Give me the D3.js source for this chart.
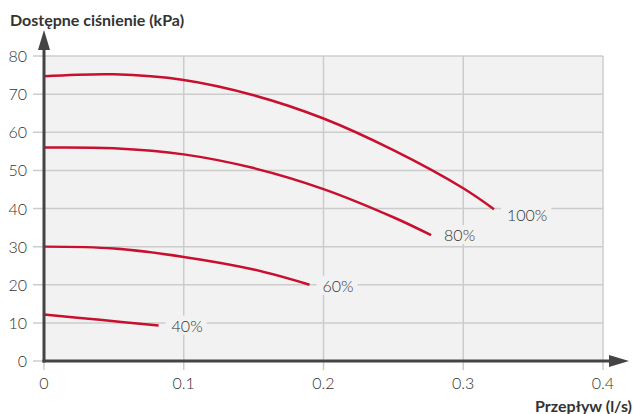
<!DOCTYPE html>
<html>
<head>
<meta charset="utf-8">
<script src="https://cdn.jsdelivr.net/npm/d3@7"></script>
<style>
  body { margin: 0; background: #fff; }
  text { font-family: Lato, "Open Sans", sans-serif; }
</style>
</head>
<body>
<script>
// pump curves: flow (l/s) vs available pressure (kPa)
var xTicks = [0, 0.1, 0.2, 0.3, 0.4],
    yTicks = [0, 10, 20, 30, 40, 50, 60, 70, 80];

var curve100 = [[0, 74.7], [0.05, 75.2], [0.1, 73.7], [0.15, 69.7], [0.2, 63.6], [0.25, 55.3], [0.3, 45.3], [0.322, 39.8]];
var curve80 = [[0, 56.0], [0.05, 55.8], [0.1, 54.2], [0.15, 50.6], [0.2, 45.1], [0.25, 37.7], [0.277, 33.0]];
var curve60 = [[0, 30.0], [0.05, 29.5], [0.1, 27.3], [0.15, 24.0], [0.19, 20.0]];
var curve40 = [[0, 12.2], [0.04, 10.8], [0.082, 9.3]];
var labels = ["100%", "80%", "60%", "40%"];

var width = 633, height = 414;
var margin = {left: 44, right: 30, top: 56, bottom: 53};

var svg = d3.select("body").append("svg")
    .attr("width", width)
    .attr("height", height);

var x = d3.scaleLinear().domain([0, 0.4]).range([margin.left, 603]);
var y = d3.scaleLinear().domain([0, 80]).range([361, margin.top]);

// plot background
svg.append("rect")
    .attr("x", x(0)).attr("y", y(80))
    .attr("width", x(0.4) - x(0)).attr("height", y(0) - y(80))
    .attr("fill", "#f2f2f2");

// grid
svg.selectAll(".gx").data(xTicks.slice(1)).enter().append("line")
    .attr("x1", d => x(d)).attr("x2", d => x(d))
    .attr("y1", y(80)).attr("y2", y(0) + 9)
    .attr("stroke", "#cccccc").attr("stroke-width", 1.5);
svg.selectAll(".gy").data(yTicks.slice(1)).enter().append("line")
    .attr("x1", x(0) - 11).attr("x2", x(0.4))
    .attr("y1", d => y(d)).attr("y2", d => y(d))
    .attr("stroke", "#cccccc").attr("stroke-width", 1.5);
// tick for 0 on both axes
svg.append("line").attr("x1", x(0) - 11).attr("x2", x(0)).attr("y1", y(0)).attr("y2", y(0))
    .attr("stroke", "#cccccc").attr("stroke-width", 1.5);
svg.append("line").attr("x1", x(0)).attr("x2", x(0)).attr("y1", y(0)).attr("y2", y(0) + 9)
    .attr("stroke", "#cccccc").attr("stroke-width", 1.5);

// tick labels
svg.selectAll(".ty").data(yTicks).enter().append("text")
    .attr("x", 27).attr("y", d => y(d) + 6)
    .attr("text-anchor", "end")
    .attr("font-size", 16).attr("font-weight", 300).attr("fill", "#333")
    .text(d => d);
svg.selectAll(".tx").data(xTicks).enter().append("text")
    .attr("x", d => x(d)).attr("y", 389)
    .attr("text-anchor", "middle")
    .attr("font-size", 16).attr("font-weight", 300).attr("fill", "#333")
    .text(d => d);

// curves
var line = d3.line().x(d => x(d[0])).y(d => y(d[1])).curve(d3.curveCatmullRom.alpha(0.5));
var curves = [curve100, curve80, curve60, curve40];
svg.selectAll(".curve").data(curves).enter().append("path")
    .attr("d", line)
    .attr("fill", "none")
    .attr("stroke", "#c8102e")
    .attr("stroke-width", 2.5);

// labels with background knockout (100% sits a bit below its line end)
var labelDy = [12, 6, 7, 6];
curves.forEach(function(c, i) {
    var last = c[c.length - 1];
    var g = svg.append("g");
    var t = g.append("text")
        .attr("x", x(last[0]) + 13).attr("y", y(last[1]) + labelDy[i])
        .attr("font-size", 16).attr("font-weight", 300).attr("fill", "#333")
        .text(labels[i]);
    var b = t.node().getBBox();
    g.insert("rect", "text")
        .attr("x", b.x - 6).attr("y", b.y)
        .attr("width", b.width + 10).attr("height", b.height)
        .attr("fill", "#f2f2f2");
});

// axes with arrows
svg.append("line")
    .attr("x1", x(0)).attr("x2", x(0))
    .attr("y1", y(0) + 1.5).attr("y2", 44)
    .attr("stroke", "#444").attr("stroke-width", 3);
svg.append("path")
    .attr("d", "M" + x(0) + ",30 L" + (x(0) - 6) + ",50 L" + (x(0) + 6) + ",50 Z")
    .attr("fill", "#444");
svg.append("line")
    .attr("x1", x(0) - 1.5).attr("x2", 614)
    .attr("y1", y(0)).attr("y2", y(0))
    .attr("stroke", "#444").attr("stroke-width", 3);
svg.append("path")
    .attr("d", "M629," + y(0) + " L609," + (y(0) - 6) + " L609," + (y(0) + 6) + " Z")
    .attr("fill", "#444");

// axis titles
svg.append("text")
    .attr("x", 10).attr("y", 26)
    .attr("font-size", 16).attr("font-weight", 700).attr("fill", "#333")
    .text("Dostępne ciśnienie (kPa)");
svg.append("text")
    .attr("x", 632).attr("y", 412)
    .attr("text-anchor", "end")
    .attr("font-size", 16).attr("font-weight", 700).attr("fill", "#333")
    .text("Przepływ (l/s)");
</script>
</body>
</html>
